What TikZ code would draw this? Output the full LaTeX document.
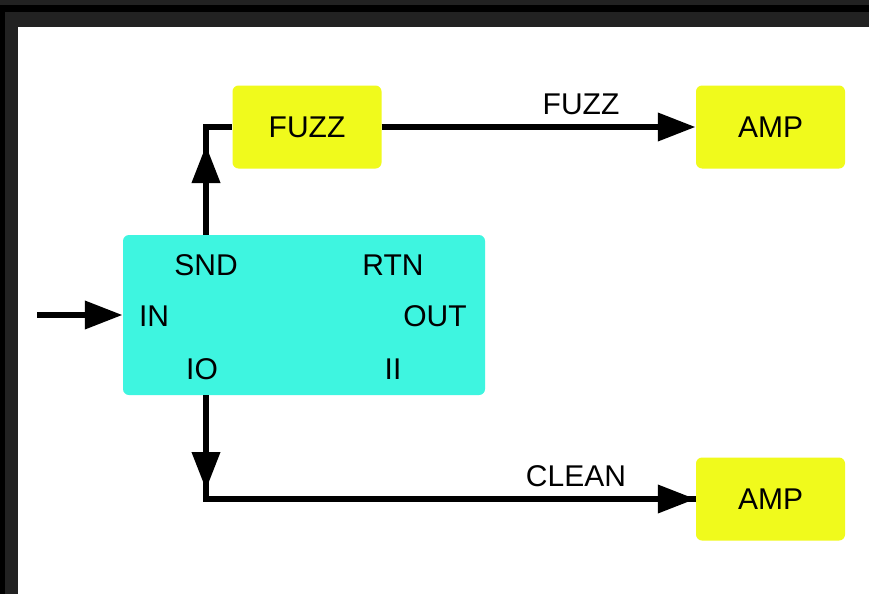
\documentclass[tikz,border=0pt]{standalone}
\usepackage{fontspec}
\setmainfont{Liberation Sans}
\usetikzlibrary{arrows.meta}
\definecolor{cyanbox}{RGB}{62,245,224}
\definecolor{yellowbox}{RGB}{240,250,28}
\definecolor{framegray}{RGB}{34,34,34}
\begin{document}
\begin{tikzpicture}[x=1pt,y=-1pt,
  every node/.style={font=\fontsize{30}{34}\selectfont, inner sep=0pt},
  ybox/.style={fill=yellowbox, rounded corners=6pt, minimum width=149pt, minimum height=83pt},
  conn/.style={line width=6.8pt, line join=miter, draw=black},
  arr/.style={conn, -{Triangle[length=38pt,width=27pt]}},
  lbl/.style={anchor=center}]
\useasboundingbox (0,0) rectangle (869,594);
% frame
\fill[framegray] (0,0) rectangle (869,594);
\fill[black] (0,5) rectangle (869,12);
\fill[black] (0,5) rectangle (5,594);
\fill[white] (18,27) rectangle (869,594);
% boxes
\node[fill=cyanbox, rounded corners=6pt, minimum width=362pt, minimum height=160pt] (cy) at (304,315) {};
\node[ybox] (fuzz) at (307,127) {FUZZ};
\node[ybox] (amp1) at (770.5,127) {AMP};
\node[ybox] (amp2) at (770.5,499) {AMP};
% port labels
\node (snd) at (206,265) {SND};
\node (rtn) at (393,265) {RTN};
\node (in) at (154,316) {IN};
\node (out) at (435,316) {OUT};
\node (io) at (202,369) {IO};
\node (ii) at (393,369) {II};
% connectors
\coordinate (src) at (37,315);
\coordinate (sndtop) at (206,127);
\coordinate (sndtip) at (206,145);
\coordinate (iobot) at (206,499);
\coordinate (iotip) at (206,490);
\draw[arr] (src) -- (cy.west);
\draw[conn] (cy.north -| sndtop) -- (sndtop) -- (fuzz.west);
\draw[arr] (cy.north -| sndtop) -- (sndtip);
\draw[arr] (fuzz.east) -- (amp1.west);
\draw[conn] (cy.south -| iobot) -- (iobot) -- (amp2.west);
\draw[arr] (cy.south -| iobot) -- (iotip);
\draw[arr] (iobot) -- (amp2.west);
% connector labels
\node (lfuzz) at (581,104) {FUZZ};
\node (lclean) at (576,476) {CLEAN};
\end{tikzpicture}
\end{document}
